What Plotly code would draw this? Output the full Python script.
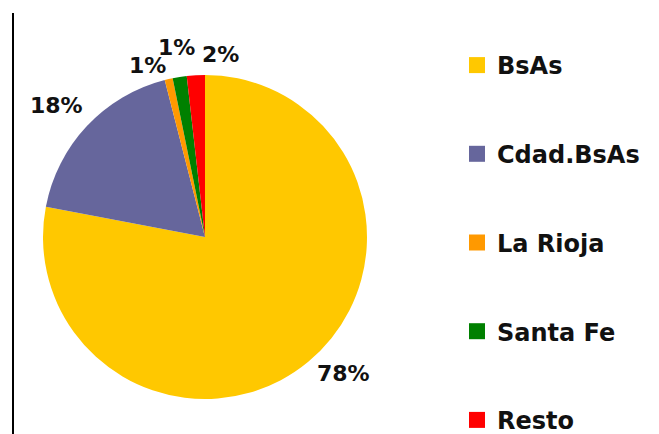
import math
import plotly.graph_objects as go

categories = ["BsAs", "Cdad.BsAs", "La Rioja", "Santa Fe", "Resto"]
values = [78.0, 18.0, 0.8, 1.4, 1.8]
colors = ["#FFC800", "#66669C", "#FF9900", "#008000", "#FF0000"]

# label placement style: angular nudge (deg) and distance (px) from the pie centre
label_nudge = [-5.8, -1.7, -5.6, 0.6, 8.2]
label_dist = [194, 198, 181, 192, 183]

OFF = 8                      # default page margin of the html body
W, H = 659 - OFF, 434 - OFF  # figure size
cx, cy, r = 205 - OFF, 237 - OFF, 162

fig = go.Figure()
fig.add_trace(go.Pie(
    labels=categories, values=values, sort=False, direction="clockwise",
    rotation=0,
    marker=dict(colors=colors, line=dict(width=0)),
    textinfo="none",
    showlegend=False, hoverinfo="label+percent",
    domain=dict(x=[(cx - r) / W, (cx + r) / W], y=[(H - cy - r) / H, (H - cy + r) / H]),
))

total = sum(values)
cum = 0.0
for v, nudge, dist in zip(values, label_nudge, label_dist):
    mid = (cum + v / 2) / total * 360.0
    cum += v
    a = math.radians(mid + nudge)
    px = cx + dist * math.sin(a)
    py = cy - dist * math.cos(a)
    fig.add_annotation(
        x=px / W, y=1 - py / H, xref="paper", yref="paper",
        text=f"{round(v / total * 100)}%", showarrow=False,
        xanchor="center", yanchor="middle",
        font=dict(family="DejaVu Sans", size=22, color="#111111", weight="bold"),
    )

for c, col in zip(categories, colors):
    fig.add_trace(go.Scatter(
        x=[None], y=[None], mode="markers", name=c, legendgroup=c,
        marker=dict(symbol="square", size=16, color=col),
    ))

fig.add_shape(type="line", xref="paper", yref="paper",
              x0=(13 - OFF) / W, x1=(13 - OFF) / W, y0=-0.02, y1=1 - (13 - OFF) / H,
              line=dict(color="black", width=2))

fig.update_layout(
    width=W, height=H, margin=dict(l=0, r=0, t=0, b=0, autoexpand=False),
    paper_bgcolor="white", plot_bgcolor="white",
    xaxis=dict(visible=False), yaxis=dict(visible=False),
    legend=dict(x=449 / W, xanchor="left", y=1 - 35 / H, yanchor="top",
                traceorder="grouped", tracegroupgap=54.5,
                font=dict(family="DejaVu Sans", size=24, color="#111111", weight="bold")),
)

fig.write_html("out.html")
